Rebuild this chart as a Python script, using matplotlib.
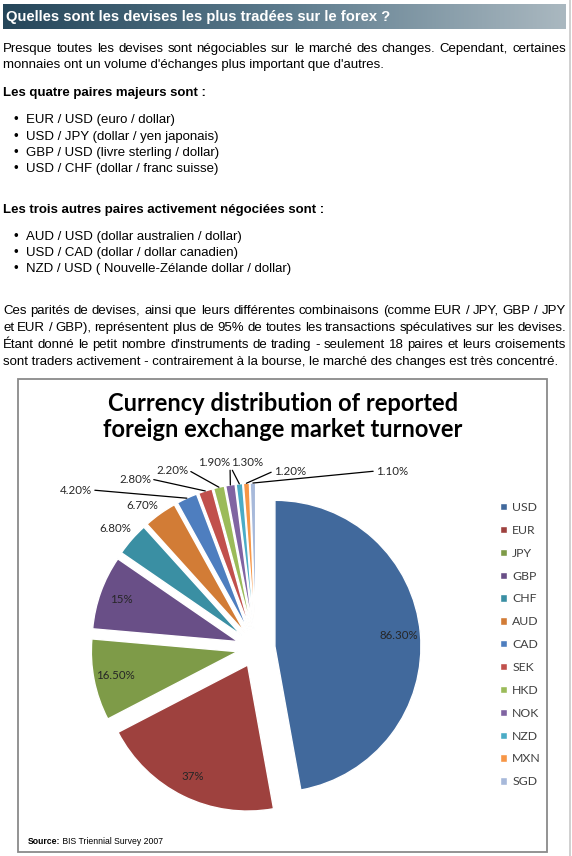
import math
import numpy as np
import matplotlib
matplotlib.use('Agg')
import matplotlib.pyplot as plt
from matplotlib.colors import LinearSegmentedColormap
from matplotlib.patches import Rectangle

# données du graphique (BIS Triennial Survey 2007)
currencies = ['USD', 'EUR', 'JPY', 'GBP', 'CHF', 'AUD', 'CAD', 'SEK', 'HKD', 'NOK', 'NZD', 'MXN', 'SGD']
shares = [86.3, 37.0, 16.5, 15.0, 6.8, 6.7, 4.2, 2.8, 2.2, 1.9, 1.3, 1.2, 1.1]
pct_labels = ['86.30%', '37%', '16.50%', '15%', '6.80%', '6.70%', '4.20%', '2.80%',
              '2.20%', '1.90%', '1.30%', '1.20%', '1.10%']
colors = ['#41699c', '#9e413e', '#7e9b48', '#694f87', '#3a8fa3', '#d27c36', '#4e7ebf',
          '#c1504c', '#9bbb59', '#8064a2', '#4bacc6', '#f79646', '#a7b9da']

# textes de la page
header = "Quelles sont les devises les plus tradées sur le forex ?"
para1 = ["Presque toutes les devises sont négociables sur le marché des changes. Cependant, certaines",
         "monnaies ont un volume d'échanges plus important que d'autres."]
head_major = "Les quatre paires majeurs sont :"
major_pairs = ["EUR / USD (euro / dollar)", "USD / JPY (dollar / yen japonais)",
               "GBP / USD (livre sterling / dollar)", "USD / CHF (dollar / franc suisse)"]
head_other = "Les trois autres paires activement négociées sont :"
other_pairs = ["AUD / USD (dollar australien / dollar)", "USD / CAD (dollar / dollar canadien)",
               "NZD / USD ( Nouvelle-Zélande dollar / dollar)"]
para2 = ["Ces parités de devises, ainsi que leurs différentes combinaisons (comme EUR / JPY, GBP / JPY",
         "et EUR / GBP), représentent plus de 95% de toutes les transactions spéculatives sur les devises.",
         "Étant donné le petit nombre d'instruments de trading - seulement 18 paires et leurs croisements",
         "sont traders activement - contrairement à la bourse, le marché des changes est très concentré."]
chart_title = "Currency distribution of reported\nforeign exchange market turnover"

W, H = 572, 856
fig = plt.figure(figsize=(W / 100, H / 100), dpi=100)
ax = fig.add_axes([0, 0, 1, 1])
renderer = fig.canvas.get_renderer()


def Y(y):
    # coordonnées écran -> coordonnées du graphique
    return H - y


BASE = 4.3  # écart centre de ligne -> ligne de base
body = dict(family='Liberation Sans', fontsize=9.5, color='black', va='baseline')


def line(x, y, s, **kw):
    return ax.text(x, Y(y + BASE), s, **body, **kw)


def justify(s, y, x0=3, x1=566, **kw):
    words = s.split(' ')
    texts = [line(0, y, w, **kw) for w in words]
    widths = [t.get_window_extent(renderer).width for t in texts]
    gap = (x1 - x0 - sum(widths)) / (len(words) - 1)
    x = x0
    for t, w in zip(texts, widths):
        t.set_x(x)
        x += w + gap


# bandeau titre en dégradé
cmap = LinearSegmentedColormap.from_list('bandeau', ['#25465a', '#5c7b8d', '#aab8c0'])
ax.imshow(np.linspace(0, 1, 256).reshape(1, -1), cmap=cmap, aspect='auto',
          extent=(3, 566, Y(29), Y(4)), zorder=1)
ax.text(6, Y(16.5), header, family='Liberation Sans', fontsize=10.6, fontweight='bold',
        color='white', va='center', zorder=2)
ax.plot([570, 570], [0, H], color='#c8c8c8', lw=1.2)

step = 16.2
justify(para1[0], 47.3)
line(3, 47.3 + step, para1[1])
line(3, 91.7, head_major, fontweight='bold')
for i, s in enumerate(major_pairs):
    line(16, 119 + step * i, '•', ha='center')
    line(26, 119 + step * i, s)
line(3, 208.3, head_other, fontweight='bold')
for i, s in enumerate(other_pairs):
    line(16, 235.7 + step * i, '•', ha='center')
    line(26, 235.7 + step * i, s)
for i, s in enumerate(para2):
    if i < 3:
        justify(s, 309.5 + 16.9 * i)
    else:
        line(3, 309.5 + 16.9 * i, s)

# cadre du graphique
ax.add_patch(Rectangle((18, Y(852)), 529, 473, facecolor='white', edgecolor='#8a8a8a', lw=1.3, zorder=1))
ax.text(283, Y(416.5), chart_title, family='Lato', fontweight='bold', fontsize=17,
        ha='center', va='center', linespacing=1.12, color='black', zorder=3)

# camembert
R = 146
cx, cy = 256, Y(648)
wedges, _ = ax.pie(shares, colors=colors, startangle=90, counterclock=False,
                   explode=[19] * len(shares), radius=R, center=(cx, cy),
                   wedgeprops=dict(edgecolor='white', linewidth=1.0), frame=True)
for w in wedges:
    w.set_zorder(3)

lab = dict(family='Lato', fontsize=8.3, color='#262626', zorder=4)
# étiquettes extérieures : position (écran) et point d'attache du trait
outer = {
    'CAD': ((76, 490), (1, 0.5)),
    'SEK': ((135, 479), (1, 0.5)),
    'HKD': ((172, 470), (1, 0.5)),
    'NOK': ((214, 462), (1, 0.0)),
    'NZD': ((247, 462), (0, 0.0)),
    'MXN': ((290, 471), (0, 0.5)),
    'SGD': ((392, 471), (0, 0.5)),
}
free = {'CHF': (115, 529), 'AUD': (142, 505)}
for w, cur, txt in zip(wedges, currencies, pct_labels):
    th = math.radians((w.theta1 + w.theta2) / 2)
    dx, dy = math.cos(th), math.sin(th)
    wx, wy = w.center
    if cur in outer:
        (tx, ty), rp = outer[cur]
        ax.annotate(txt, xy=(wx + w.r * dx, wy + w.r * dy), xytext=(tx, Y(ty)),
                    ha='center', va='center',
                    arrowprops=dict(arrowstyle='-', color='black', lw=0.9, shrinkA=0, shrinkB=0,
                                    relpos=rp), **lab)
    elif cur in free:
        tx, ty = free[cur]
        ax.text(tx, Y(ty), txt, ha='center', va='center', **lab)
    else:
        ax.text(wx + 0.85 * w.r * dx, wy + 0.85 * w.r * dy, txt, ha='center', va='center', **lab)

leg = ax.legend(wedges, currencies, loc='upper left', bbox_to_anchor=(500, Y(502)),
                bbox_transform=ax.transData, frameon=False, borderpad=0, borderaxespad=0,
                handlelength=0.55, handleheight=0.55, handletextpad=0.45, labelspacing=0.97,
                prop=dict(family='Lato', size=8.8))
for t in leg.get_texts():
    t.set_color('#404040')
leg.set_zorder(4)

# source
src = ax.text(28, Y(841), 'Source:', family='Liberation Sans', fontsize=6.2, fontweight='bold',
              va='center', zorder=4)
sw = src.get_window_extent(renderer).width
ax.text(28 + sw, Y(841), ' BIS Triennial Survey 2007', family='Liberation Sans', fontsize=6.2,
        va='center', zorder=4)

ax.set_xlim(0, W)
ax.set_ylim(0, H)
ax.set_aspect('equal')
ax.axis('off')
fig.savefig('out.png', dpi=100)
